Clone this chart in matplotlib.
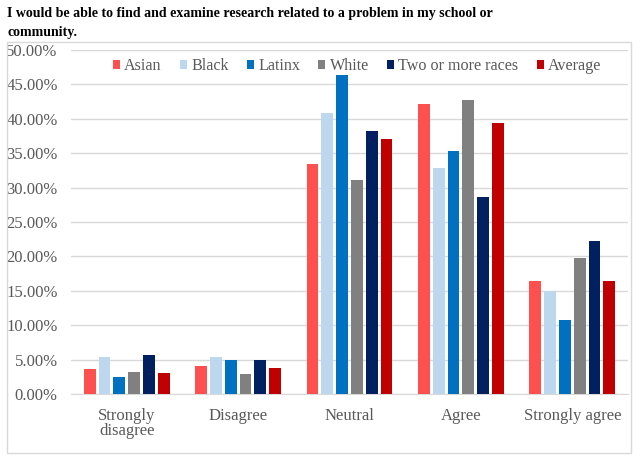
import numpy as np
import matplotlib
matplotlib.use('Agg')
import matplotlib.pyplot as plt
from matplotlib.patches import Rectangle

title_lines = ["I would be able to find and examine research related to a problem in my school or",
               "community."]
categories = ["Strongly\ndisagree", "Disagree", "Neutral", "Agree", "Strongly agree"]
groups = ["Asian", "Black", "Latinx", "White", "Two or more races", "Average"]
asian = [3.7, 4.1, 33.5, 42.1, 16.4]
black = [5.4, 5.4, 40.9, 32.9, 15.0]
latinx = [2.4, 4.9, 46.3, 35.3, 10.7]
white = [3.2, 2.9, 31.1, 42.7, 19.7]
two_more = [5.6, 4.9, 38.2, 28.7, 22.3]
average = [3.1, 3.8, 37.0, 39.4, 16.4]
yticks = [0, 5, 10, 15, 20, 25, 30, 35, 40, 45, 50]

series = [asian, black, latinx, white, two_more, average]
colors = ["#FF5050", "#BDD7EE", "#0070C0", "#808080", "#002060", "#C00000"]

plt.rcParams['font.family'] = ['Liberation Serif', 'DejaVu Serif']
grey = "#595959"

fig = plt.figure(figsize=(6.4, 4.62), dpi=100)
W, H = 640, 462
# outer frame of the chart
fig.patches.append(Rectangle((7 / W, 1 - 453 / H), 624 / W, 411 / H, transform=fig.transFigure,
                             fill=False, edgecolor="#D9D9D9", linewidth=1))
fig.text(7 / W, 1 - 17 / H, title_lines[0], ha="left", va="baseline",
         fontsize=10, fontweight="bold", color="black")
fig.text(7 / W, 1 - 36 / H, title_lines[1], ha="left", va="baseline",
         fontsize=10, fontweight="bold", color="black")

ax = fig.add_axes([71 / W, 1 - 394 / H, (628 - 71) / W, (394 - 50) / H])
x = np.arange(len(categories))
width = 0.106
pitch = 0.133
for i, (vals, name, c) in enumerate(zip(series, groups, colors)):
    ax.bar(x + (i - 2.5) * pitch, vals, width, color=c, label=name, zorder=3)

ax.set_xlim(-0.5, len(categories) - 0.5)
ax.set_ylim(0, 50)
ax.set_yticks(yticks)
ax.set_yticklabels(["%.2f%%" % v for v in yticks])
ax.set_xticks(x)
ax.set_xticklabels(categories, linespacing=0.95)
ax.grid(axis="y", color="#D9D9D9", linewidth=1, zorder=0)
for s in ["top", "right", "left"]:
    ax.spines[s].set_visible(False)
ax.spines["bottom"].set_color("#D9D9D9")
ax.tick_params(axis="both", length=0, labelsize=12, labelcolor=grey)
ax.tick_params(axis="x", pad=10)
ax.tick_params(axis="y", pad=9.5)

leg = ax.legend(loc="center", bbox_to_anchor=((357 - 71) / 557, (394 - 66.5) / 344), ncol=6,
                frameon=False, fontsize=11.6, handlelength=0.45, handleheight=0.45,
                handletextpad=0.25, columnspacing=1.13, borderpad=0)
for t in leg.get_texts():
    t.set_color(grey)

fig.savefig("out.png", dpi=100)
